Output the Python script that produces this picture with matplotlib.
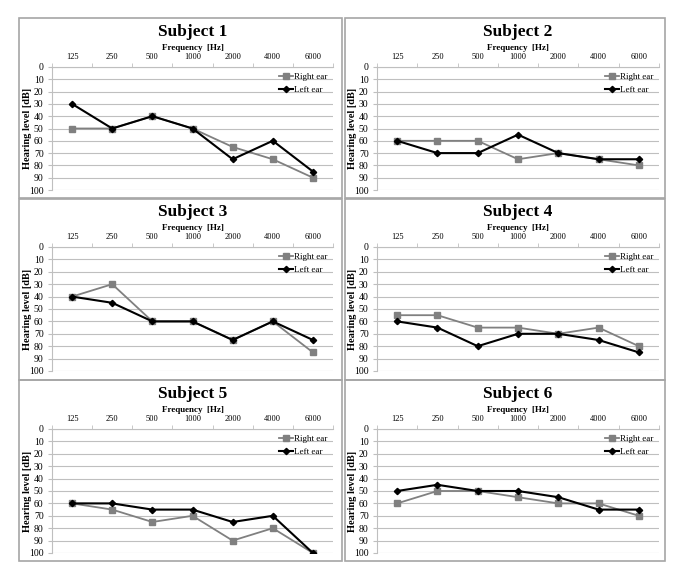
import numpy as np
import matplotlib
matplotlib.use('Agg')
import matplotlib.pyplot as plt
from matplotlib.patches import Rectangle

# audiogram data, hearing level in dB per frequency
freqs = ['125', '250', '500', '1000', '2000', '4000', '6000']
subjects = ['Subject 1', 'Subject 2', 'Subject 3', 'Subject 4', 'Subject 5', 'Subject 6']

right_ear = [
    [50, 50, 40, 50, 65, 75, 90],
    [60, 60, 60, 75, 70, 75, 80],
    [40, 30, 60, 60, 75, 60, 85],
    [55, 55, 65, 65, 70, 65, 80],
    [60, 65, 75, 70, 90, 80, 100],
    [60, 50, 50, 55, 60, 60, 70],
]
left_ear = [
    [30, 50, 40, 50, 75, 60, 85],
    [60, 70, 70, 55, 70, 75, 75],
    [40, 45, 60, 60, 75, 60, 75],
    [60, 65, 80, 70, 70, 75, 85],
    [60, 60, 65, 65, 75, 70, 100],
    [50, 45, 50, 50, 55, 65, 65],
]
y_ticks = [0, 10, 20, 30, 40, 50, 60, 70, 80, 90, 100]

W, H = 685, 588
plt.rcParams['font.family'] = ['Liberation Serif', 'DejaVu Serif']

fig = plt.figure(figsize=(W / 100, H / 100), dpi=100)


def px_rect(x0, y0, x1, y1):
    # pixel box (top-left origin) -> figure fraction [l, b, w, h]
    return [x0 / W, 1 - y1 / H, (x1 - x0) / W, (y1 - y0) / H]


# panel boxes (x0, x1 of box, x0, x1 of plot area) and rows likewise
panel_cols = [(19, 342, 52, 333), (345, 665, 377, 659)]
panel_rows = [(18, 198, 67, 190), (199, 380, 247, 371), (380, 561, 429, 553)]

gray = '#808080'
grid_c = '#bfbfbf'

for i, name in enumerate(subjects):
    r, c = divmod(i, 2)
    bx0, bx1, ax0, ax1 = panel_cols[c]
    by0, by1, ay0, ay1 = panel_rows[r]

    fig.add_artist(Rectangle((bx0 / W, 1 - by1 / H), (bx1 - bx0) / W, (by1 - by0) / H,
                             transform=fig.transFigure, fill=False,
                             edgecolor='#a6a6a6', linewidth=1.2))

    ax = fig.add_axes(px_rect(ax0, ay0, ax1, ay1))
    x = np.arange(len(freqs))
    ax.plot(x, right_ear[i], color=gray, marker='s', markersize=4.5,
            linewidth=1.3, label='Right ear', zorder=3)
    ax.plot(x, left_ear[i], color='black', marker='D', markersize=3.2,
            linewidth=1.5, label='Left ear', zorder=4)

    ax.set_xlim(-0.5, len(freqs) - 0.5)
    ax.set_ylim(100, 0)
    ax.set_yticks(y_ticks)
    ax.set_yticklabels([str(v) for v in y_ticks], fontsize=7)
    ax.yaxis.grid(True, color=grid_c, linewidth=0.8)
    ax.set_axisbelow(True)

    ax.xaxis.tick_top()
    ax.set_xticks(x)
    ax.set_xticklabels(freqs, fontsize=6)
    ax.set_xticks(np.arange(-0.5, len(freqs)), minor=True)
    ax.tick_params(axis='x', which='major', length=0, pad=4)
    ax.tick_params(axis='x', which='minor', length=3, color=grid_c, direction='out')
    ax.tick_params(axis='y', length=3, color=grid_c, pad=3)

    for s in ['right', 'bottom']:
        ax.spines[s].set_visible(False)
    ax.spines['top'].set_color(grid_c)
    ax.spines['left'].set_color(grid_c)

    ax.set_ylabel('Hearing level [dB]', fontsize=7.5, fontweight='bold')
    ax.yaxis.set_label_coords(-20 / (ax1 - ax0), 0.5)

    cx = (ax0 + ax1) / 2 / W
    fig.text(cx, 1 - (ay0 - 35) / H, name, fontsize=12.5, fontweight='bold',
             ha='center', va='center')
    fig.text(cx, 1 - (ay0 - 19) / H, 'Frequency  [Hz]', fontsize=6.5,
             fontweight='bold', ha='center', va='center')

    ax.legend(loc='upper right', frameon=False, fontsize=6.5,
              handlelength=1.6, handletextpad=0.1, borderaxespad=0.2,
              labelspacing=0.6)

fig.savefig('out.png', dpi=100)
